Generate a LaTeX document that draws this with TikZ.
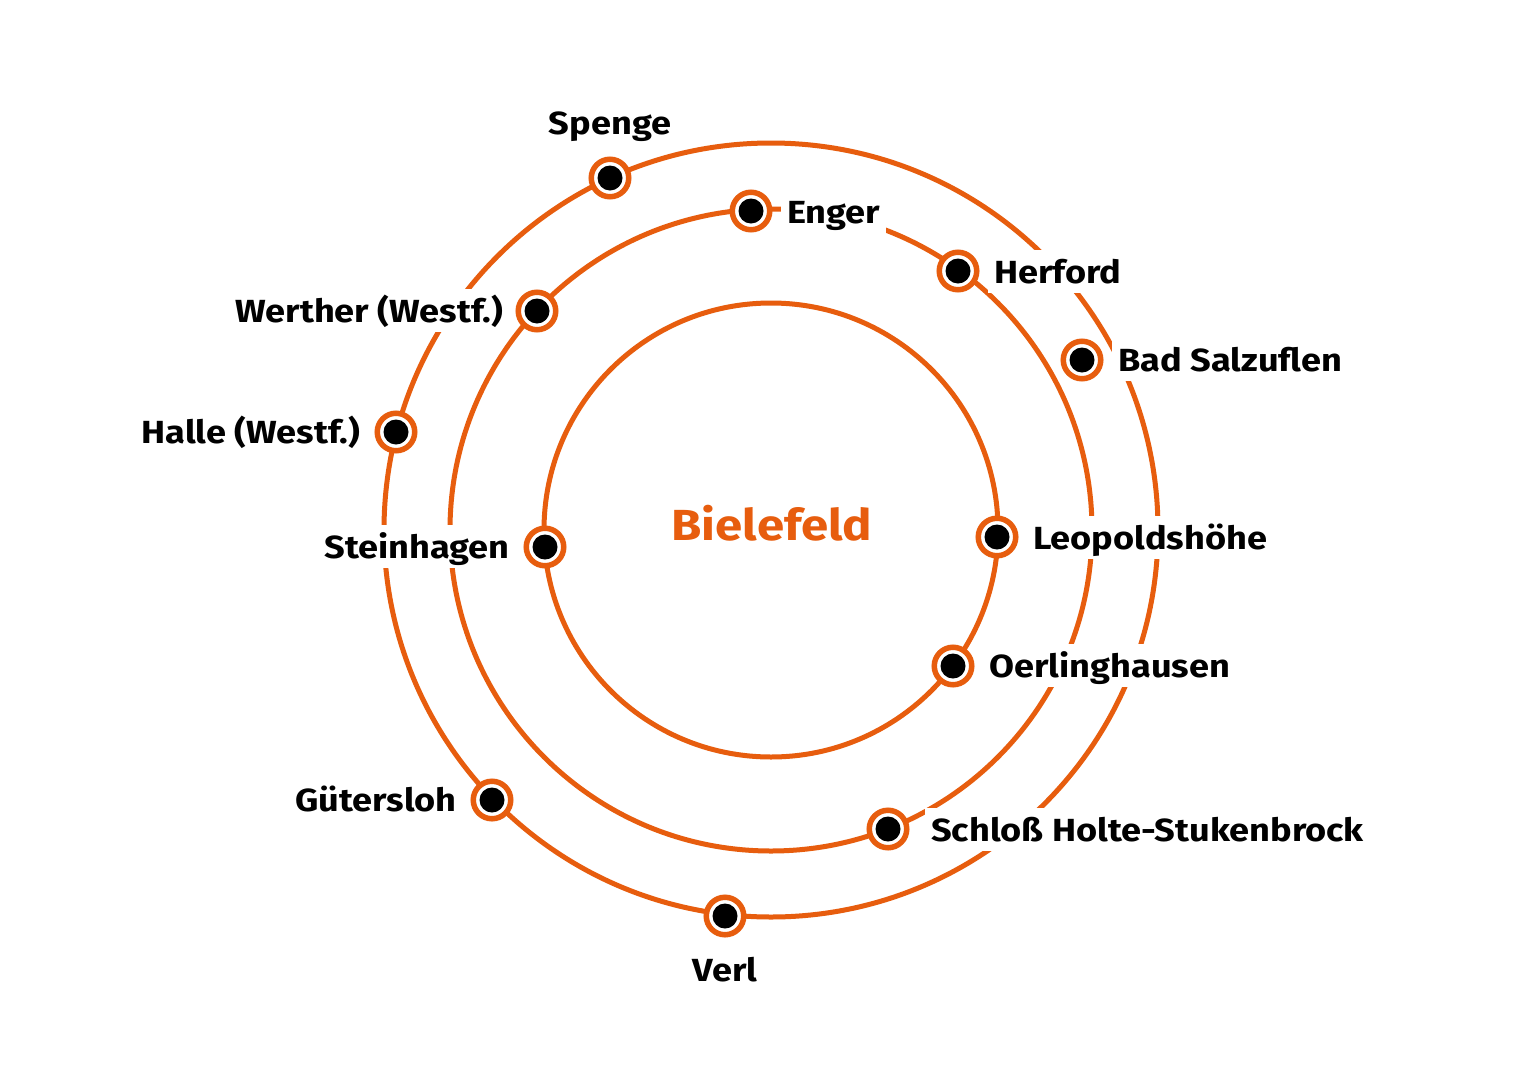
\documentclass[tikz,border=0pt]{standalone}
\usepackage{fontspec}
\setmainfont{Fira Sans}[FakeStretch=1.13]
\definecolor{bfo}{RGB}{231,93,14}
\tikzset{
  ring/.style={draw=bfo, line width=5pt},
  lbl/.style={font=\bfseries\fontsize{32}{32}\selectfont, fill=white, inner xsep=6pt, inner ysep=4pt, text height=29pt, text depth=6pt},
  marker/.style={circle, draw=bfo, line width=5.5pt, fill=white, minimum size=37.5pt, inner sep=0pt,
    path picture={\fill[black] (path picture bounding box.center) circle (12.5pt);}},
}
\begin{document}
\begin{tikzpicture}[x=1pt,y=-1pt]
\useasboundingbox[fill=white] (0,0) rectangle (1518,1074);
\coordinate (c) at (771,530);
\draw[ring] (c) circle[radius=227pt];
\draw[ring] (c) circle[radius=321pt];
\draw[ring] (c) circle[radius=387pt];
% labels
\node[lbl, anchor=base] (lspenge) at (610,134) {Spenge};
\node[lbl, anchor=base west] (lenger) at (781,223) {Enger};
\node[lbl, anchor=base west] (lherford) at (988,283) {Herford};
\node[lbl, anchor=base west] (lbad) at (1112,371) {Bad Salzuflen};
\node[lbl, anchor=base east] (lwerther) at (509,322) {Werther (Westf.)};
\node[lbl, anchor=base east] (lhalle) at (366,443) {Halle (Westf.)};
\node[lbl, anchor=base east] (lstein) at (516,558) {Steinhagen};
\node[lbl, anchor=base west] (lleo) at (1027,549) {Leopoldshöhe};
\node[lbl, anchor=base west] (loer) at (983,677) {Oerlinghausen};
\node[lbl, anchor=base west] (lschloss) at (925,841) {Schloß Holte-Stukenbrock};
\node[lbl, anchor=base east] (lguet) at (463,811) {Gütersloh};
\node[lbl, anchor=base] (lverl) at (725,981) {Verl};
\node[font=\bfseries\fontsize{43.5}{43.5}\selectfont, text=bfo, anchor=base] (biel) at (772,540) {Bielefeld};
% markers
\node[marker] (spenge) at (610,178) {};
\node[marker] (enger) at (751,211) {};
\node[marker] (herford) at (958,271) {};
\node[marker] (bad) at (1082,360) {};
\node[marker] (werther) at (537,311) {};
\node[marker] (halle) at (396,432) {};
\node[marker] (stein) at (545,547) {};
\node[marker] (leo) at (997,537) {};
\node[marker] (oer) at (953,666) {};
\node[marker] (guet) at (492,800) {};
\node[marker] (verl) at (725,916) {};
\node[marker] (schloss) at (888,829) {};
\end{tikzpicture}
\end{document}
